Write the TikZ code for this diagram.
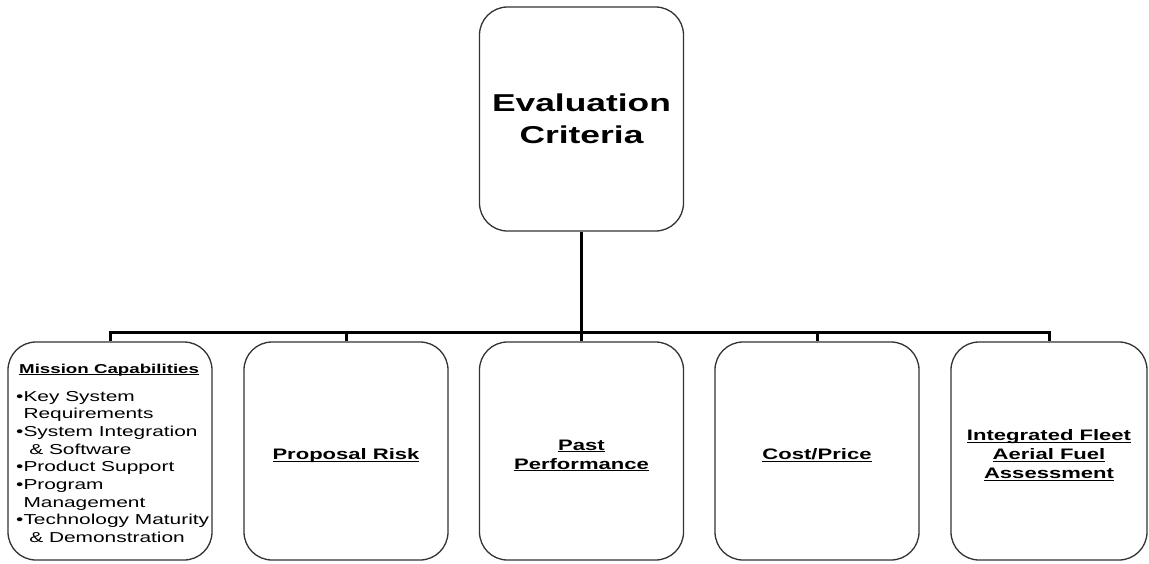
\documentclass[tikz,border=0pt]{standalone}
\usepackage{fontspec}
\setmainfont[FakeStretch=1.45]{Liberation Sans}
% underline drawn as a rule just under the baseline
\newcommand{\ulin}[1]{\setbox0\hbox{#1}\rlap{\rule[-2.4pt]{\wd0}{1.3pt}}\box0}
\begin{document}
\begin{tikzpicture}[x=1pt,y=-1pt,
  box/.style={draw=black!80, line width=1.3pt, rounded corners=28pt, fill=white,
              align=center, inner sep=2pt},
  lowbox/.style={box, minimum width=204pt, minimum height=218pt},
  conn/.style={draw=black, line width=3pt, line join=miter},
  label/.style={align=center, inner sep=0pt, font=\fontsize{15.2}{19}\selectfont\bfseries},
  listline/.style={anchor=base west, inner sep=0pt, font=\fontsize{14.4}{17.7}\selectfont}]
  \useasboundingbox (0,0) rectangle (1149,563);

  % root of the tree
  \node[box, minimum width=204pt, minimum height=224pt,
        font=\fontsize{24.4}{32}\selectfont\bfseries] (top) at (581.5,119) {Evaluation\\Criteria};

  % the five criteria
  \node[lowbox] (b1) at (110,451) {};
  \node[lowbox] (b2) at (346,451) {};
  \node[lowbox] (b3) at (581.5,451) {};
  \node[lowbox] (b4) at (817,451) {};
  \node[lowbox, minimum width=196pt] (b5) at (1049,451) {};

  % their titles, set a little below the box centres
  \node[label] (b2t) at ([yshift=-4.5pt]b2.center) {\ulin{Proposal Risk}};
  \node[label] (b3t) at ([yshift=-4.5pt]b3.center) {\ulin{Past}\\\ulin{Performance}};
  \node[label] (b4t) at ([yshift=-4.5pt]b4.center) {\ulin{Cost/Price}};
  \node[label] (b5t) at ([yshift=-4.5pt]b5.center)
       {\ulin{Integrated Fleet}\\\ulin{Aerial Fuel}\\\ulin{Assessment}};

  % contents of the first criterion
  \node[anchor=base west, inner sep=0pt, font=\fontsize{12.9}{16}\selectfont\bfseries]
       (b1head) at (19,373) {\ulin{Mission Capabilities}};
  \foreach \t [count=\i from 0] in {%
      {•Key System},
      {\hphantom{•}Requirements},
      {•System Integration},
      {\hphantom{•} \& Software},
      {•Product Support},
      {•Program},
      {\hphantom{•}Management},
      {•Technology Maturity},
      {\hphantom{•} \& Demonstration}}
    \node[listline] (b1l\i) at (16,{401+\i*17.7}) {\t};

  % connectors
  \coordinate (bar) at (581.5,332);
  \draw[conn] (top.south) -- (bar);
  \draw[conn] (b1.north) -- (b1.north |- bar) -- (b5.north |- bar) -- (b5.north);
  \foreach \b in {b2,b3,b4}
    \draw[conn] (\b.north) -- (\b.north |- bar);
\end{tikzpicture}
\end{document}
